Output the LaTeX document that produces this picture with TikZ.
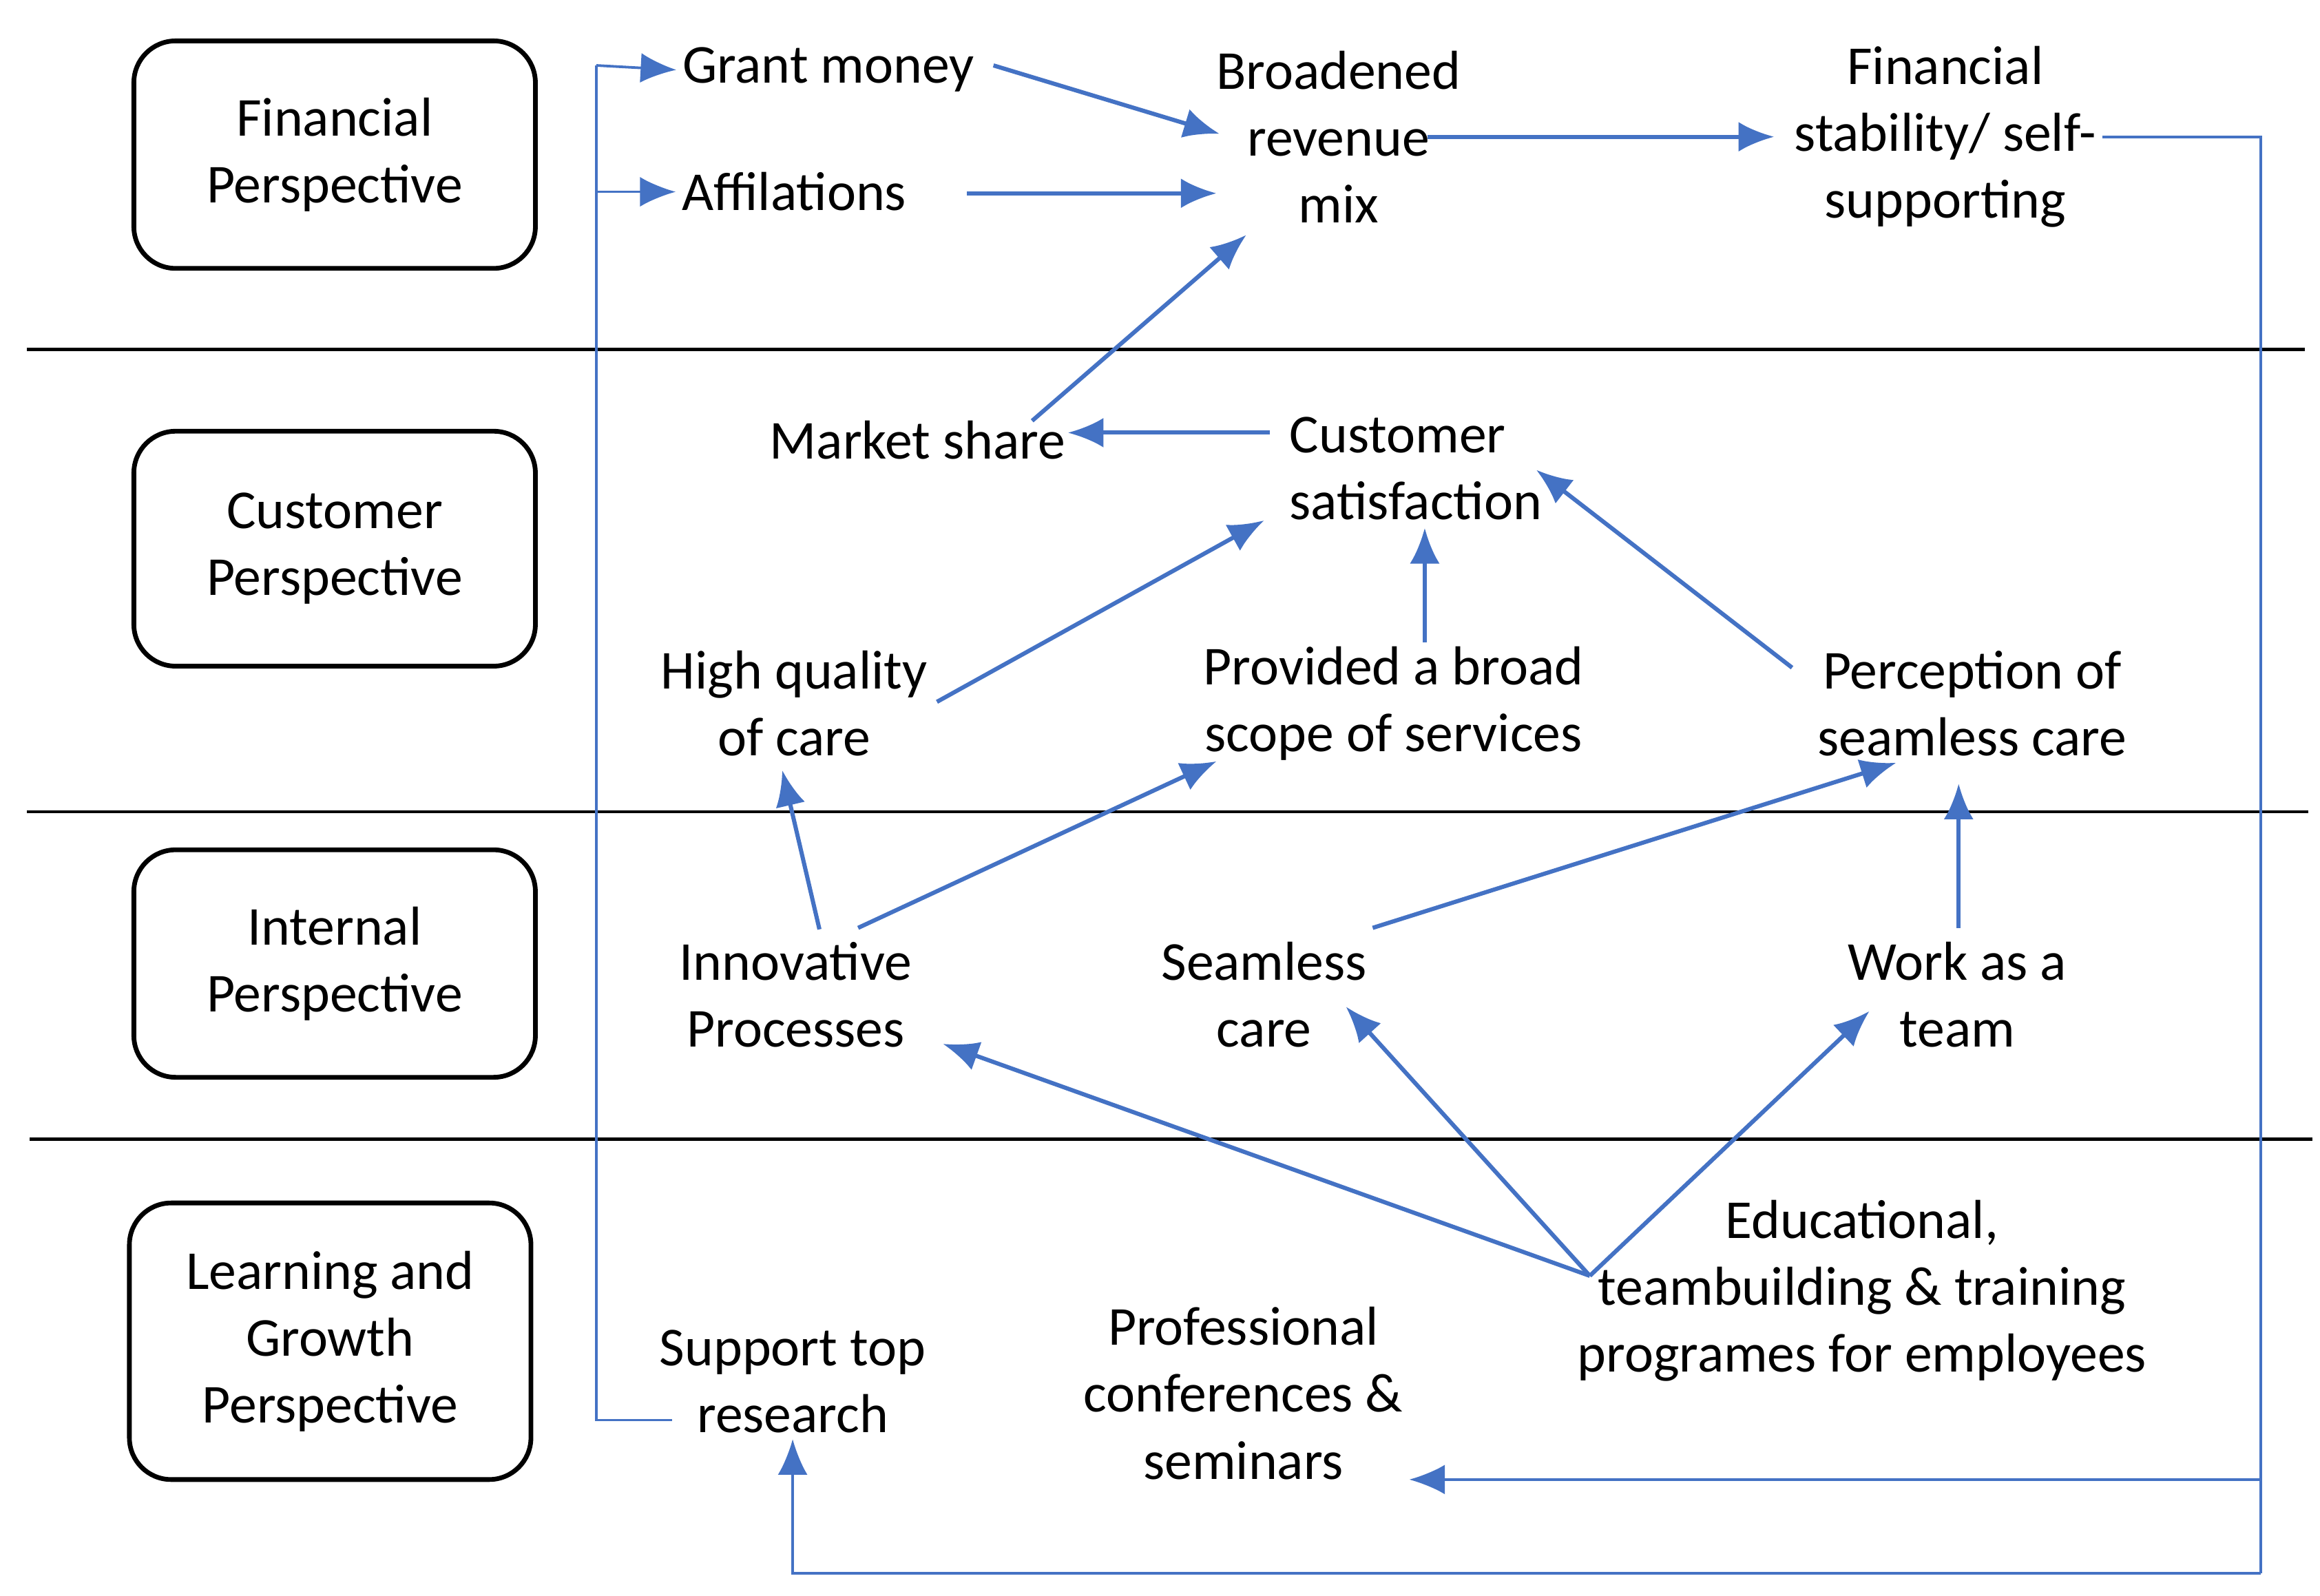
\documentclass[tikz,border=0pt]{standalone}
\usepackage{fontspec}
\setmainfont{Carlito}
\definecolor{arrblue}{HTML}{4472C4}
\tikzset{
  persp/.style={draw, line width=0.9pt, rounded corners=8pt, minimum width=2.7cm, align=center},
  lbl/.style={align=center, inner sep=1pt},
  arr/.style={draw=arrblue, line width=0.8pt, -{Latex[length=2.4mm,width=2mm]}},
  wire/.style={draw=arrblue, line width=0.5pt},
  wirearr/.style={wire, -{Latex[length=2.4mm,width=2mm]}}
}
\usetikzlibrary{arrows.meta}
\begin{document}
\begin{tikzpicture}[x=1cm,y=1cm,font=\fontsize{10.5}{12.8}\selectfont]
      \useasboundingbox (0,0) rectangle (15.6,10.73);
      % perspective boxes
      \node[persp, minimum height=1.53cm] (fin) at (2.25,9.69) {Financial\\Perspective};
      \node[persp, minimum height=1.58cm] (cus) at (2.25,7.04) {Customer\\Perspective};
      \node[persp, minimum height=1.53cm] (int) at (2.25,4.25) {Internal\\Perspective};
      \node[persp, minimum height=1.86cm] (lea) at (2.22,1.71) {Learning and\\Growth\\Perspective};
      % separators
      \draw[line width=0.6pt] (0.18,8.38) -- (15.5,8.38);
      \draw[line width=0.6pt] (0.18,5.27) -- (15.52,5.27);
      \draw[line width=0.6pt] (0.20,3.07) -- (15.55,3.07);

      % financial
      \node[lbl] (grant) at (5.57,10.26) {Grant money};
      \node[lbl] (affil) at (5.34,9.44) {Affilations};
      \node[lbl] (rev) at (9.00,9.81) {Broadened\\revenue\\mix};
      \node[lbl] (stab) at (13.08,9.81) {Financial\\stability/ self-\\supporting};
      % customer
      \node[lbl] (mkt) at (6.17,7.77) {Market share};
      \node[lbl, align=left] (sat) at (9.52,7.58) {Customer\\satisfaction};
      \node[lbl] (qual) at (5.34,6.00) {High quality\\of care};
      \node[lbl] (scope) at (9.37,6.00) {Provided a broad\\scope of services};
      \node[lbl] (perc) at (13.26,6.00) {Perception of\\seamless care};
      % internal
      \node[lbl] (innov) at (5.35,4.04) {Innovative\\Processes};
      \node[lbl] (seam) at (8.50,4.04) {Seamless\\care};
      \node[lbl] (team) at (13.16,4.04) {Work as a\\team};
      % learning
      \node[lbl] (edu) at (12.52,2.05) {Educational,\\teambuilding \& training\\programes for employees};
      \node[lbl] (conf) at (8.36,1.36) {Professional\\conferences \&\\seminars};
      \node[lbl] (res) at (5.33,1.44) {Support top\\research};

      % bracket from research to financial
      \coordinate (bk) at (4.01,1.18);
      \draw[wire] (4.52,1.18) -- (bk) -- (4.01,10.29);
      \draw[wirearr] (4.01,10.29) -- (grant.west);
      \draw[wirearr] (4.01,9.44) -- (affil.west);
      % loop back from financial stability
      \coordinate (rt) at (15.20,9.81);
      \coordinate (rb) at (15.20,0.15);
      \draw[wire] (stab.east) -- (rt) -- (rb);
      \draw[wirearr] (rb) -| (res.south);
      \draw[wirearr] (15.20,0.78) -- (conf.south east |- 0,0.78);

      % financial arrows
      \draw[arr] (6.68,10.29) -- (8.20,9.83);
      \draw[arr] (6.50,9.43) -- (8.18,9.43);
      \draw[arr] (6.94,7.90) -- (8.38,9.15);
      \draw[arr] (9.60,9.81) -- (11.93,9.81);
      % customer arrows
      \draw[arr] (8.54,7.82) -- (7.18,7.82);
      \draw[arr] (6.30,6.01) -- (8.50,7.23);
      \draw[arr] (9.58,6.41) -- (9.58,7.18);
      \draw[arr] (12.05,6.24) -- (10.33,7.57);
      % internal arrows
      \draw[arr] (5.51,4.48) -- (5.26,5.55);
      \draw[arr] (5.77,4.49) -- (8.18,5.61);
      \draw[arr] (9.23,4.49) -- (12.75,5.60);
      \draw[arr] (13.17,4.49) -- (13.17,5.46);
      % learning arrows
      \coordinate (hub) at (10.69,2.15);
      \draw[arr] (hub) -- (6.34,3.71);
      \draw[arr] (hub) -- (9.05,3.96);
      \draw[arr] (hub) -- (12.57,3.93);
\end{tikzpicture}
\end{document}
